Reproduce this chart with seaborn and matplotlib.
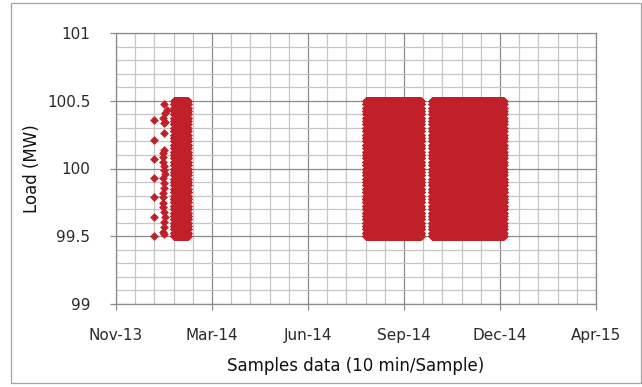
import numpy as np
import pandas as pd
import matplotlib
matplotlib.use("Agg")
import matplotlib.pyplot as plt
import matplotlib.dates as mdates
from matplotlib.ticker import MultipleLocator, FixedLocator
from matplotlib.patches import Rectangle
import seaborn as sns

# ---------------- data ----------------
EXCEL_ORIGIN = pd.Timestamp("1899-12-30")

# sparse column of points (1 Jan 2014)
sparse1_serial = [41640] * 7
sparse1_load = [99.5, 99.643, 99.786, 99.929, 100.071, 100.214, 100.357]

# second sparse column (~11 Jan 2014)
sparse2_serial = [41650.3, 41652.8, 41651.0, 41649.3, 41651.0, 41650.0, 41650.3,
                  41650.0, 41649.3, 41649.3, 41649.3, 41650.0, 41650.0, 41651.0,
                  41649.3, 41650.0, 41650.0, 41649.3, 41649.3, 41649.3, 41649.3,
                  41650.0, 41651.0, 41650.0, 41650.3, 41649.3, 41650.3]
sparse2_load = [100.476, 100.432, 100.407, 100.370, 100.346, 100.333, 100.260,
                100.137, 100.112, 100.083, 100.050, 100.018, 99.989, 99.960,
                99.928, 99.891, 99.854, 99.817, 99.787, 99.748, 99.713,
                99.681, 99.644, 99.607, 99.570, 99.534, 99.517]

# dense blocks of 10-min samples
block_start = ["2014-01-21", "2014-08-09", "2014-10-17"]
block_end = ["2014-02-05", "2014-10-06", "2014-12-31"]
# load levels the dense samples cycle through
block_levels = [99.5, 99.525, 99.55, 99.575, 99.6, 99.625, 99.65, 99.675, 99.7,
                99.725, 99.75, 99.775, 99.8, 99.825, 99.85, 99.875, 99.9, 99.925,
                99.95, 99.975, 100.0, 100.025, 100.05, 100.075, 100.1, 100.125,
                100.15, 100.175, 100.2, 100.225, 100.25, 100.275, 100.3, 100.325,
                100.35, 100.375, 100.4, 100.425, 100.45, 100.475, 100.5]
sample_interval = "10min"

# axis
x_tick_serial = [41600, 41700, 41800, 41900, 42000, 42100]
x_minor_step_days = 20
y_ticks = [99, 99.5, 100, 100.5, 101]
y_tick_labels = ["99", "99.5", "100", "100.5", "101"]

# ---------------- build table ----------------
frames = []
frames.append(pd.DataFrame({
    "time": EXCEL_ORIGIN + pd.to_timedelta(sparse1_serial, unit="D"),
    "load": sparse1_load}))
frames.append(pd.DataFrame({
    "time": EXCEL_ORIGIN + pd.to_timedelta(sparse2_serial, unit="D"),
    "load": sparse2_load}))
for s, e in zip(block_start, block_end):
    t = pd.date_range(s, e, freq=sample_interval)
    frames.append(pd.DataFrame({"time": t,
                                "load": np.resize(np.array(block_levels), len(t))}))
df = pd.concat(frames, ignore_index=True)

# ---------------- plot ----------------
sns.set_theme(style="white")
plt.rcParams["font.family"] = ["DejaVu Sans"]

W, H = 642, 387
fig = plt.figure(figsize=(W / 100, H / 100), dpi=100)
ax = fig.add_axes([116 / W, 1 - 304 / H, (596 - 116) / W, (304 - 33) / H])

red = "#C0202A"
sns.scatterplot(data=df, x="time", y="load", marker="D", s=20, color=red,
                linewidth=0, ax=ax, zorder=3, legend=False)

xt = [EXCEL_ORIGIN + pd.Timedelta(days=v) for v in x_tick_serial]
ax.set_xlim(xt[0], xt[-1])
ax.set_ylim(y_ticks[0], y_ticks[-1])

ax.xaxis.set_major_locator(FixedLocator(mdates.date2num(xt)))
ax.xaxis.set_major_formatter(mdates.DateFormatter("%b-%y"))
minor_x = pd.date_range(xt[0], xt[-1], freq=f"{x_minor_step_days}D")
ax.xaxis.set_minor_locator(FixedLocator(mdates.date2num(minor_x)))
ax.yaxis.set_major_locator(FixedLocator(y_ticks))
ax.yaxis.set_minor_locator(MultipleLocator(0.1))
ax.set_yticklabels(y_tick_labels)

major_c = "#8a8a8a"
minor_c = "#c6c6c6"
ax.set_axisbelow(True)
ax.grid(which="minor", color=minor_c, lw=0.9, zorder=0)
ax.grid(which="major", color=major_c, lw=0.9, zorder=1)

for side in ["left", "bottom", "top", "right"]:
    ax.spines[side].set_visible(True)
    ax.spines[side].set_color(major_c)
    ax.spines[side].set_linewidth(0.9)

ax.tick_params(which="major", direction="out", length=4.5, width=0.9,
               color=major_c, labelsize=11, labelcolor="#2a2a2a")
ax.tick_params(axis="x", which="major", pad=13, bottom=True)
ax.tick_params(axis="y", which="major", pad=14, left=True)
ax.tick_params(which="minor", length=0)

ax.set_xlabel("Samples data (10 min/Sample)", fontsize=12, color="#111111",
              labelpad=10)
ax.set_ylabel("Load (MW)", fontsize=12, color="#111111", labelpad=4)

fig.patches.append(Rectangle((11 / W, 1 - 383 / H), (640.5 - 11) / W, (383 - 3) / H,
                             transform=fig.transFigure, fill=False,
                             edgecolor="#a6a6a6", lw=0.9))

fig.savefig("out.png", dpi=100)
